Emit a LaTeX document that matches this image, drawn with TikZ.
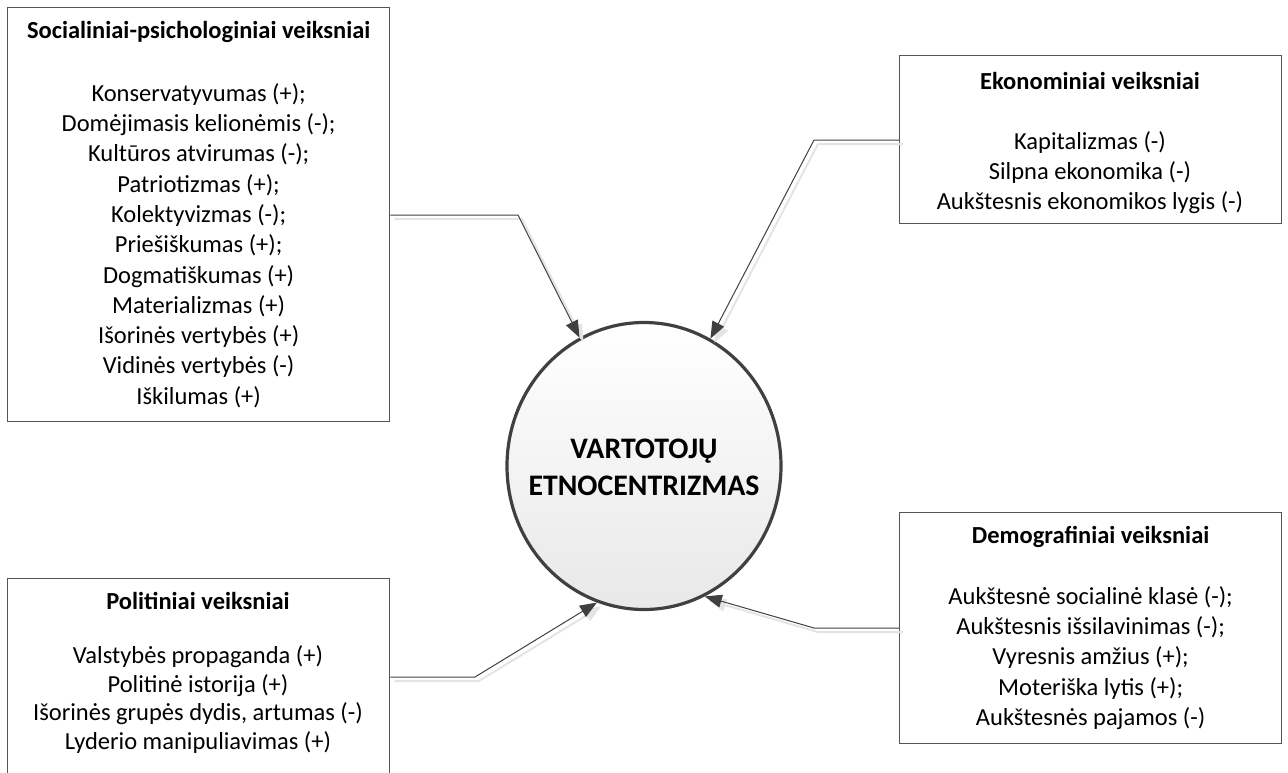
\documentclass[tikz,border=0pt]{standalone}
\usepackage{fontspec}
\setmainfont{Carlito}
\usetikzlibrary{arrows.meta,shapes.geometric}
\definecolor{edge}{HTML}{404040}
\definecolor{boxline}{HTML}{555555}
\definecolor{shade}{HTML}{E4E4E4}
\begin{document}
\begin{tikzpicture}[x=1pt,y=-1pt,
  every node/.style={font=\fontsize{24.5}{30.3}\selectfont, text=black},
  factor/.style={draw=boxline, line width=1.3pt, fill=white, align=center,
    minimum width=382pt, anchor=north west, inner sep=0pt},
  hub/.style={ellipse, draw=edge, line width=3.2pt, minimum width=274pt,
    minimum height=287pt, top color=white, bottom color=black!9, inner sep=0pt},
  hubtext/.style={align=center, inner sep=0pt,
    font=\bfseries\fontsize{29.8}{37}\selectfont},
  link/.style={draw=edge, line width=1pt, -{Triangle[length=17pt,width=13pt]}},
  linkshadow/.style={draw=shade, line width=2pt, -{Triangle[length=17pt,width=13pt]},
    transform canvas={shift={(4pt,-4pt)}}}]
\useasboundingbox (0,0) rectangle (1288,772);

% factor groups
\node[factor, minimum height=414pt] (soc) at (7,7)
  {\textbf{Socialiniai-psichologiniai veiksniai}\\[32pt]
   Konservatyvumas (+);\\
   Domėjimasis kelionėmis (-);\\
   Kultūros atvirumas (-);\\
   Patriotizmas (+);\\
   Kolektyvizmas (-);\\
   Priešiškumas (+);\\
   Dogmatiškumas (+)\\
   Materializmas (+)\\
   Išorinės vertybės (+)\\
   Vidinės vertybės (-)\\
   Iškilumas (+)};

\node[factor, minimum height=168pt] (eko) at (899,55) {};
\node[align=center, inner sep=0pt] (ekot) at (1090,143)
  {\textbf{Ekonominiai veiksniai}\\[30pt]
   Kapitalizmas (-)\\
   Silpna ekonomika (-)\\
   Aukštesnis ekonomikos lygis (-)};

\node[factor, minimum height=231pt] (demo) at (899,512)
  {\textbf{Demografiniai veiksniai}\\[30pt]
   Aukštesnė socialinė klasė (-);\\
   Aukštesnis išsilavinimas (-);\\
   Vyresnis amžius (+);\\
   Moteriška lytis (+);\\
   Aukštesnės pajamos (-)};

\node[factor, minimum height=240pt] (pol) at (7,578) {};
\node[align=center, inner sep=0pt, font=\fontsize{24.5}{28.7}\selectfont]
  (polt) at (198,673)
  {\textbf{Politiniai veiksniai}\\[25pt]
   Valstybės propaganda (+)\\
   Politinė istorija (+)\\
   Išorinės grupės dydis, artumas (-)\\
   Lyderio manipuliavimas (+)};

% central concept
\node[hub] (circ) at (644,466) {};
\node[hubtext] (circt) at (644,467) {VARTOTOJŲ\\ETNOCENTRIZMAS};

% elbow points of the connectors
\coordinate (b1) at (518,215);
\coordinate (b2) at (814,140);
\coordinate (b3) at (475,677);
\coordinate (b4) at (814,628);

% soft shadows under the connectors
\draw[linkshadow] (soc.east |- b1) -- (b1) -- (circ);
\draw[linkshadow] (eko.west |- b2) -- (b2) -- (circ);
\draw[linkshadow] (pol.east |- b3) -- (b3) -- (circ.251);
\draw[linkshadow] (demo.west |- b4) -- (b4) -- (circ.295);

% connectors
\draw[link] (soc.east |- b1) -- (b1) -- (circ);
\draw[link] (eko.west |- b2) -- (b2) -- (circ);
\draw[link] (pol.east |- b3) -- (b3) -- (circ.251);
\draw[link] (demo.west |- b4) -- (b4) -- (circ.295);
\end{tikzpicture}
\end{document}
